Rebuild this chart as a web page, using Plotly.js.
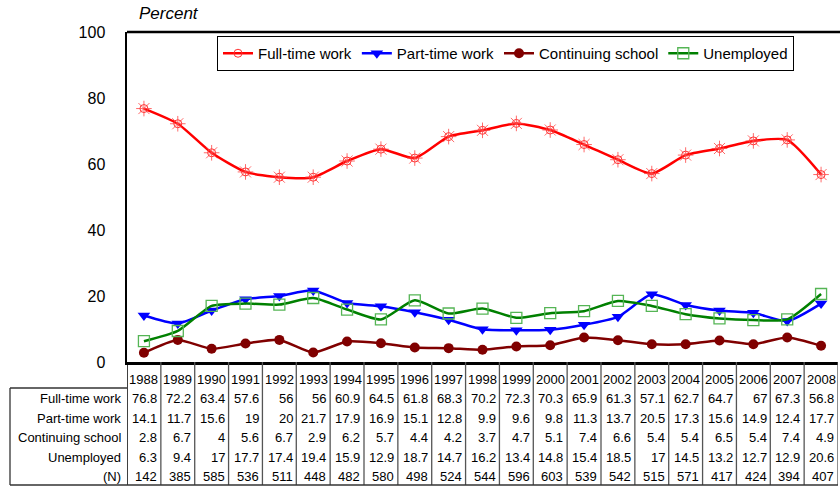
<!DOCTYPE html>
<html><head><meta charset="utf-8">
<script src="https://cdn.plot.ly/plotly-3.0.1.min.js"></script>
<style>html,body{margin:0;padding:0;background:#fff}#chart{width:840px;height:486px}</style>
</head><body><div id="chart"></div>
<script>
const years = ["1988","1989","1990","1991","1992","1993","1994","1995","1996","1997","1998","1999","2000","2001","2002","2003","2004","2005","2006","2007","2008"];
const fullTime = [76.8,72.2,63.4,57.6,56,56,60.9,64.5,61.8,68.3,70.2,72.3,70.3,65.9,61.3,57.1,62.7,64.7,67,67.3,56.8];
const partTime = [14.1,11.7,15.6,19,20,21.7,17.9,16.9,15.1,12.8,9.9,9.6,9.8,11.3,13.7,20.5,17.3,15.6,14.9,12.4,17.7];
const contSchool = [2.8,6.7,4,5.6,6.7,2.9,6.2,5.7,4.4,4.2,3.7,4.7,5.1,7.4,6.6,5.4,5.4,6.5,5.4,7.4,4.9];
const unemployed = [6.3,9.4,17,17.7,17.4,19.4,15.9,12.9,18.7,14.7,16.2,13.4,14.8,15.4,18.5,17,14.5,13.2,12.7,12.9,20.6];
const nCounts = [142,385,585,536,511,448,482,580,498,524,544,596,603,539,542,515,571,417,424,394,407];
const rowLabels = ["Full-time work","Part-time work","Continuing school","Unemployed","(N)"];
const yTicks = [0,20,40,60,80,100];

const W = 840, H = 486;
const px = x => x / W;
const py = y => 1 - y / H;
const FONT = "Liberation Sans, Arial, sans-serif";
const idx = years.map((_, i) => i);
const line = {shape: "spline", smoothing: 0.6, width: 2.5};

const traces = [
  {x: idx, y: fullTime, name: "Full-time work", mode: "lines+markers",
   line: Object.assign({}, line, {color: "#ff0000"}),
   marker: {symbol: "circle-open", size: 8, color: "#ff3333", line: {width: 1, color: "#ff3333"}}},
  {x: idx, y: partTime, name: "Part-time work", mode: "lines+markers",
   line: Object.assign({}, line, {color: "#0000ff"}),
   marker: {symbol: "triangle-down", size: 11, color: "#0000ff"}},
  {x: idx, y: contSchool, name: "Continuing school", mode: "lines+markers",
   line: Object.assign({}, line, {color: "#800000"}),
   marker: {symbol: "circle", size: 10, color: "#800000"}},
  {x: idx, y: unemployed, name: "Unemployed", mode: "lines+markers",
   line: Object.assign({}, line, {color: "#008000"}),
   marker: {symbol: "square-open", size: 11, color: "#55b555", line: {width: 1.3, color: "#55b555"}}},
  {x: idx, y: fullTime, mode: "markers", showlegend: false, hoverinfo: "skip",
   marker: {symbol: "asterisk-open", size: 13, color: "#ff4444", line: {width: 0.8, color: "#ff4444"}}}
];

const annotations = [];
annotations.push({text: "<i>Percent</i>", xref: "paper", yref: "paper", x: px(137), y: py(13),
  xanchor: "left", yanchor: "middle", showarrow: false, font: {family: FONT, size: 17, color: "#000"}});

const rowY = [398, 418, 437, 457, 476];
years.forEach((yr, i) => {
  annotations.push({text: yr, xref: "x", yref: "paper", x: i, y: py(379), xanchor: "center", yanchor: "middle",
    showarrow: false, font: {family: FONT, size: 13, color: "#000"}});
});
const rows = [fullTime, partTime, contSchool, unemployed, nCounts];
rows.forEach((arr, r) => {
  annotations.push({text: rowLabels[r], xref: "paper", yref: "paper", x: px(123), y: py(rowY[r]),
    xanchor: "right", yanchor: "middle", showarrow: false, font: {family: FONT, size: 13, color: "#000"}});
  arr.forEach((v, i) => {
    annotations.push({text: String(v), xref: "x", yref: "paper", x: i + 0.45, y: py(rowY[r]),
      xanchor: "right", yanchor: "middle", showarrow: false, font: {family: FONT, size: 13, color: "#000"}});
  });
});

const shapes = [];
shapes.push({type: "line", xref: "paper", yref: "paper", x0: px(127), x1: 1, y0: py(32), y1: py(32),
  line: {color: "#000", width: 2.5}});
for (let i = 0; i <= years.length; i++) {
  shapes.push({type: "line", xref: "x", yref: "paper", x0: i - 0.5, x1: i - 0.5, y0: py(362), y1: py(485),
    line: {color: i === 0 ? "#000" : "#555", width: i === 0 ? 1.5 : 1.3}});
}
shapes.push({type: "line", xref: "paper", yref: "paper", x0: px(10), x1: px(127), y0: py(388), y1: py(388), line: {color: "#333", width: 1.3}});
shapes.push({type: "line", xref: "paper", yref: "paper", x0: px(10), x1: px(10), y0: py(388), y1: py(485), line: {color: "#333", width: 1.3}});
shapes.push({type: "line", xref: "paper", yref: "paper", x0: px(10), x1: px(838), y0: py(485), y1: py(485), line: {color: "#333", width: 1.3}});

const layout = {
  width: W, height: H,
  margin: {l: 0, r: 0, t: 0, b: 0},
  paper_bgcolor: "#fff", plot_bgcolor: "#fff",
  font: {family: FONT, color: "#000"},
  xaxis: {domain: [px(127), px(838)], range: [-0.5, 20.5], showticklabels: false, showgrid: false,
    zeroline: false, showline: true, linecolor: "#000", linewidth: 2.5, ticks: ""},
  yaxis: {domain: [py(362), py(32)], range: [0, 100], tickvals: yTicks, showgrid: false, zeroline: false,
    showline: true, linecolor: "#000", linewidth: 2.5, ticks: "", ticklabelstandoff: 16,
    tickfont: {family: FONT, size: 16, color: "#000"}},
  showlegend: true,
  legend: {orientation: "h", x: px(217), y: py(36), xanchor: "left", yanchor: "top",
    bgcolor: "#fff", bordercolor: "#000", borderwidth: 1, font: {family: FONT, size: 15, color: "#000"},
    itemwidth: 30, tracegroupgap: 0},
  annotations: annotations,
  shapes: shapes
};

Plotly.newPlot("chart", traces, layout, {displayModeBar: false, staticPlot: true});
</script></body></html>
